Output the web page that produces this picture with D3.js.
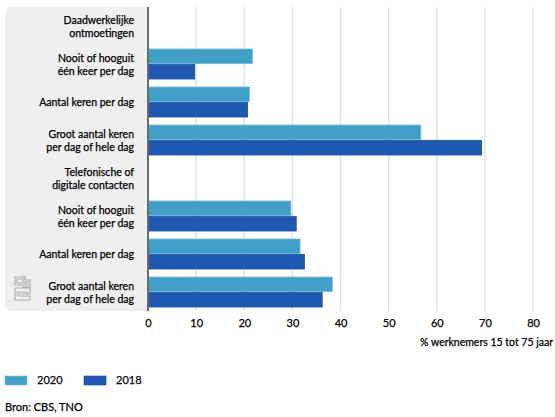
<!DOCTYPE html>
<html><head><meta charset="utf-8">
<script src="https://cdn.jsdelivr.net/npm/d3@7"></script>
<style>
html,body{margin:0;padding:0;background:#fff;}
svg{display:block;font-family:"Lato","Open Sans",sans-serif;}
text{stroke:#000;stroke-width:0.25px;}
</style></head>
<body><svg id="chart" width="555" height="417"></svg>
<script>
const categories = [
  ["Daadwerkelijke","ontmoetingen"],
  ["Nooit of hooguit","één keer per dag"],
  ["Aantal keren per dag"],
  ["Groot aantal keren","per dag of hele dag"],
  ["Telefonische of","digitale contacten"],
  ["Nooit of hooguit","één keer per dag"],
  ["Aantal keren per dag"],
  ["Groot aantal keren","per dag of hele dag"]
];
const seriesNames = ["2020","2018"];
const values2020 = [null, 21.7, 21.1, 56.7, null, 29.7, 31.6, 38.3];
const values2018 = [null, 9.7, 20.7, 69.3, null, 30.8, 32.5, 36.2];
const xTicks = [0,10,20,30,40,50,60,70,80];
const axisTitle = "% werknemers 15 tot 75 jaar";
const source = "Bron: CBS, TNO";
const colors = {"2020":"#42a0c8","2018":"#1f58b0"};
const strokes = {"2020":"#7cc0de","2018":"#1a4ea0"};

const svg = d3.select("#chart");
const x = d3.scaleLinear().domain([0,80]).range([148,533]);
const y = d3.scaleBand().domain(d3.range(categories.length)).range([7,311]).paddingInner(0.21).paddingOuter(0.105);
const sub = d3.scaleBand().domain(seriesNames).range([0,y.bandwidth()]).paddingInner(0.04);

// grey label panel
svg.append("rect").attr("x",5).attr("y",7).attr("width",150).attr("height",304).attr("rx",6).attr("fill","#efefef");
svg.append("rect").attr("x",148).attr("y",0).attr("width",10).attr("height",312).attr("fill","#fff");

// gridlines
svg.append("g").selectAll("line").data(xTicks.filter(d=>d>0)).join("line")
  .attr("x1",d=>x(d)).attr("x2",d=>x(d)).attr("y1",7).attr("y2",311)
  .attr("stroke","#e2e2e2").attr("stroke-width",1.5);

// bars
const series = [{name:"2020",vals:values2020},{name:"2018",vals:values2018}];
series.forEach(s=>{
  svg.append("g").selectAll("rect").data(s.vals.map((v,i)=>({v,i})).filter(d=>d.v!=null)).join("rect")
    .attr("x",x(0)).attr("y",d=>y(d.i)+sub(s.name))
    .attr("width",d=>x(d.v)-x(0)).attr("height",sub.bandwidth())
    .attr("fill",colors[s.name]).attr("stroke",strokes[s.name]).attr("stroke-width",0.8);
});

// zero axis line
svg.append("line").attr("x1",x(0)).attr("x2",x(0)).attr("y1",7).attr("y2",311).attr("stroke","#6b6b6b").attr("stroke-width",2);

// category labels
const lab = svg.append("g").attr("font-size",10.5).attr("fill","#000").attr("text-anchor","end");
categories.forEach((c,i)=>{
  const cy = y(i)+y.bandwidth()/2;
  const t = lab.append("text").attr("x",134).attr("y",cy - (c.length-1)*6.5 + 4);
  c.forEach((line,j)=>t.append("tspan").attr("x",134).attr("dy",j===0?0:13).text(line));
});

// x axis
const xAxis = d3.axisBottom(x).tickValues(xTicks).tickSize(0).tickPadding(0);
const gx = svg.append("g").attr("transform","translate(0,318)").call(xAxis);
gx.select(".domain").remove();
gx.selectAll("text").attr("font-size",11).attr("fill","#000").attr("dy","0.8em").style("font-family","Lato, 'Open Sans', sans-serif");
svg.append("text").attr("x",553).attr("y",346).attr("text-anchor","end").attr("font-size",10.5).attr("fill","#000").text(axisTitle);

// legend
const lg = svg.append("g");
seriesNames.forEach((n,i)=>{
  const lx = 5 + i*79;
  lg.append("rect").attr("x",lx).attr("y",376).attr("width",22).attr("height",9).attr("fill",colors[n]).attr("stroke",strokes[n]).attr("stroke-width",0.6);
  lg.append("text").attr("x",lx+32).attr("y",384).attr("font-size",11).attr("fill","#000").text(n);
});
svg.append("text").attr("x",5).attr("y",411).attr("font-size",11).attr("fill","#000").text(source);

// logo (decorative)
const logo = svg.append("g").attr("fill","none").attr("stroke","#b0b0b0").attr("stroke-width",1.2);
logo.append("path").attr("d","M15,277 h6 v2 h-4 v4 h4 v2 h-6 z M23,276 h2 v4 h5 v7 h-7 z M25,282 v3 h3 v-3 z M15,288 h15 v6 h-12 v2 h12 v4 h-15 v-6 h12 v-2 h-12 z");
</script></body></html>
